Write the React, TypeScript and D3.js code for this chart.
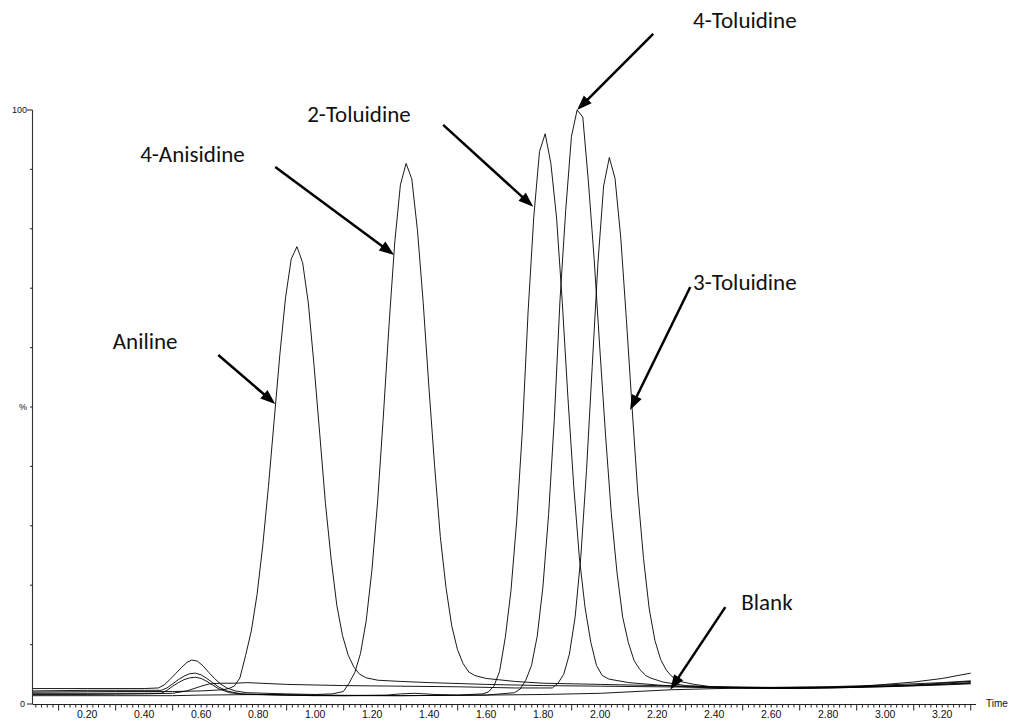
import React from "react";
import * as d3 from "d3";

type Pt = [number, number];

// chromatogram traces, [time (min), intensity %]
const anilineTrace: Pt[] = [
  [0.01, 2.0], [0.3, 2.1], [0.5, 2.1], [0.6, 2.2], [0.676, 2.4], [0.696, 2.6], [0.716, 3.0],
  [0.736, 4.4], [0.756, 8.2], [0.776, 12.3], [0.796, 18.4], [0.816, 26.6], [0.836, 36.6],
  [0.856, 47.7], [0.876, 58.8], [0.896, 68.4], [0.916, 74.9], [0.936, 77.0], [0.956, 74.3],
  [0.976, 67.5], [0.996, 57.0], [1.016, 45.5], [1.036, 33.8], [1.056, 24.4], [1.076, 16.6],
  [1.096, 11.5], [1.116, 8.2], [1.136, 6.2], [1.156, 5.0], [1.18, 4.4], [1.22, 4.0], [1.3, 3.8],
  [1.4, 3.6], [1.6, 3.3], [1.8, 3.1], [2.0, 3.0], [2.2, 2.9], [2.4, 2.8], [2.6, 2.7], [2.8, 2.8],
  [3.0, 3.0], [3.2, 3.3], [3.3, 3.5],
];

const anisidineTrace: Pt[] = [
  [0.01, 2.6], [0.2, 2.6], [0.4, 2.6], [0.45, 2.7], [0.47, 3.2], [0.49, 4.1], [0.51, 5.1],
  [0.53, 6.1], [0.55, 7.0], [0.567, 7.4], [0.587, 7.2], [0.607, 6.4], [0.627, 5.3], [0.647, 4.3],
  [0.667, 3.4], [0.69, 2.7], [0.72, 2.2], [0.76, 1.9], [0.9, 1.7], [1.0, 1.6], [1.06, 1.7],
  [1.099, 2.1], [1.119, 3.5], [1.139, 5.3], [1.159, 8.5], [1.179, 14.0], [1.199, 22.5],
  [1.219, 34.0], [1.239, 48.3], [1.259, 63.7], [1.279, 77.6], [1.299, 87.4], [1.319, 91.0],
  [1.339, 88.4], [1.359, 79.7], [1.379, 67.6], [1.399, 53.4], [1.419, 40.1], [1.439, 28.2],
  [1.459, 19.6], [1.479, 13.2], [1.499, 9.2], [1.519, 6.8], [1.539, 5.4], [1.56, 4.8], [1.6, 4.3],
  [1.7, 3.8], [1.8, 3.5], [2.0, 3.3], [2.2, 3.1], [2.4, 2.9], [2.6, 2.8], [2.8, 2.9], [3.0, 3.2],
  [3.2, 3.6], [3.3, 3.9],
];

const toluidine2Trace: Pt[] = [
  [0.01, 2.2], [0.2, 2.3], [0.4, 2.3], [0.46, 2.3], [0.48, 2.7], [0.5, 3.4], [0.52, 4.1],
  [0.54, 4.7], [0.56, 5.1], [0.58, 5.2], [0.6, 4.9], [0.62, 4.3], [0.64, 3.6], [0.66, 2.9],
  [0.69, 2.2], [0.74, 1.7], [0.9, 1.5], [1.1, 1.4], [1.25, 1.5], [1.3, 1.7], [1.35, 1.8],
  [1.42, 1.6], [1.5, 1.5], [1.587, 1.7], [1.607, 2.0], [1.627, 3.0], [1.647, 5.5], [1.667, 11.2],
  [1.687, 19.1], [1.707, 30.8], [1.727, 46.1], [1.747, 66.0], [1.767, 82.0], [1.787, 93.0],
  [1.807, 96.0], [1.827, 91.0], [1.847, 81.8], [1.867, 67.6], [1.887, 51.4], [1.907, 36.8],
  [1.927, 24.6], [1.947, 16.2], [1.967, 10.4], [1.987, 6.5], [2.007, 4.8], [2.03, 4.2],
  [2.1, 3.6], [2.2, 3.2], [2.3, 2.9], [2.4, 2.7], [2.6, 2.6], [2.8, 2.7], [3.0, 2.9], [3.2, 3.2],
  [3.3, 3.4],
];

const toluidine4Trace: Pt[] = [
  [0.01, 1.8], [0.2, 1.8], [0.4, 1.8], [0.46, 1.8], [0.48, 2.3], [0.5, 3.0], [0.52, 3.6],
  [0.54, 4.1], [0.56, 4.4], [0.58, 4.5], [0.6, 4.3], [0.62, 3.8], [0.64, 3.2], [0.66, 2.6],
  [0.7, 1.9], [0.76, 1.6], [1.0, 1.4], [1.3, 1.4], [1.6, 1.5], [1.699, 1.9], [1.719, 2.5],
  [1.739, 4.0], [1.759, 6.5], [1.779, 11.4], [1.799, 19.7], [1.819, 31.9], [1.839, 47.9],
  [1.859, 68.0], [1.879, 83.1], [1.899, 95.5], [1.919, 100.0], [1.939, 98.8], [1.959, 87.7],
  [1.979, 74.8], [1.999, 59.6], [2.019, 45.1], [2.039, 32.1], [2.059, 22.1], [2.079, 14.6],
  [2.099, 10.3], [2.119, 7.3], [2.139, 5.8], [2.16, 4.8], [2.175, 4.4], [2.22, 3.7], [2.3, 3.1],
  [2.39, 2.9], [2.5, 2.7], [2.7, 2.6], [2.9, 2.8], [3.1, 3.1], [3.3, 3.6],
];

const toluidine3Trace: Pt[] = [
  [0.01, 1.6], [0.2, 1.6], [0.4, 1.7], [0.5, 1.8], [0.55, 2.2], [0.6, 3.0], [0.63, 3.4],
  [0.67, 3.5], [0.72, 3.5], [0.76, 3.6], [0.9, 3.3], [1.1, 3.1], [1.3, 3.0], [1.5, 2.9],
  [1.7, 2.7], [1.832, 2.7], [1.852, 3.5], [1.872, 5.0], [1.892, 8.4], [1.912, 14.6],
  [1.932, 24.8], [1.952, 39.3], [1.972, 56.8], [1.992, 74.2], [2.012, 87.2], [2.032, 92.0],
  [2.052, 88.5], [2.072, 78.6], [2.092, 64.7], [2.112, 49.8], [2.132, 35.5], [2.152, 24.5],
  [2.172, 16.0], [2.192, 10.7], [2.212, 7.5], [2.232, 5.7], [2.252, 4.6], [2.28, 3.8],
  [2.33, 3.3], [2.39, 2.9], [2.5, 2.8], [2.7, 2.7], [2.9, 2.9], [3.0, 3.3], [3.1, 3.7],
  [3.2, 4.3], [3.3, 5.2],
];

const blankTrace: Pt[] = [
  [0.01, 1.4], [0.3, 1.4], [0.5, 1.4], [0.6, 1.5], [0.8, 1.6], [1.0, 1.5], [1.3, 1.4],
  [1.6, 1.5], [1.8, 1.6], [2.0, 1.8], [2.25, 2.4], [2.5, 2.7], [2.7, 2.8], [2.9, 2.9],
  [3.1, 3.2], [3.3, 3.8],
];

const traces = [anilineTrace, anisidineTrace, toluidine2Trace, toluidine4Trace, toluidine3Trace, blankTrace];

const xLabelTimes = [0.2, 0.4, 0.6, 0.8, 1.0, 1.2, 1.4, 1.6, 1.8, 2.0, 2.2, 2.4, 2.6, 2.8, 3.0, 3.2];
const yTickPercents = [0, 10, 20, 30, 40, 50, 60, 70, 80, 90, 100];
const yTickLabels: Record<number, string> = { 0: "0", 50: "%", 100: "100" };

// peak labels: text anchor, arrow tail and arrow tip, all in (time, %)
const peakNames = ["Aniline", "4-Anisidine", "2-Toluidine", "4-Toluidine", "3-Toluidine", "Blank"];
const labelAt: Pt[] = [[0.29, 59.8], [0.386, 91.2], [0.972, 98.0], [2.326, 113.8], [2.326, 69.7], [2.495, 15.8]];
const arrowFrom: Pt[] = [[0.66, 58.75], [0.86, 90.4], [1.449, 97.5], [2.186, 112.8], [2.316, 70.2], [2.439, 16.3]];
const arrowTo: Pt[] = [[0.86, 50.5], [1.277, 75.6], [1.765, 83.7], [1.919, 100.0], [2.105, 49.5], [2.246, 2.4]];

const W = 1010;
const H = 723;

export default function App() {
  const x = d3.scaleLinear().domain([0.01, 3.315]).range([33, 975]);
  const y = d3.scaleLinear().domain([0, 100]).range([704, 110]);
  const line = d3.line<Pt>().x(d => x(d[0])).y(d => y(d[1]));

  const minor = d3.range(1, 166).map(i => i * 0.02);
  const axisFont = "'Liberation Sans', Arial, sans-serif";
  const noteFont = "Carlito, Calibri, 'Open Sans', sans-serif";

  const arrows = arrowFrom.map((f, i) => {
    const x0 = x(f[0]), y0 = y(f[1]);
    const x1 = x(arrowTo[i][0]), y1 = y(arrowTo[i][1]);
    const len = Math.hypot(x1 - x0, y1 - y0);
    const ux = (x1 - x0) / len, uy = (y1 - y0) / len;
    const hl = 15, hw = 5.5;
    const bx = x1 - ux * hl, by = y1 - uy * hl;
    const head = [
      [x1, y1],
      [bx - uy * hw, by + ux * hw],
      [bx + uy * hw, by - ux * hw],
    ].map(p => p.join(",")).join(" ");
    return { x0, y0, bx: bx + ux * 2, by: by + uy * 2, head };
  });

  return (
    <svg width={W} height={H} style={{ position: "absolute", left: 0, top: 0, background: "#fff" }}>
      {/* traces */}
      <g fill="none" stroke="#000" strokeWidth={0.9}>
        {traces.map((t, i) => (
          <path key={i} d={line(t) || ""} />
        ))}
      </g>

      {/* x axis */}
      <g stroke="#222" strokeWidth={1}>
        <line x1={33} x2={976} y1={704.5} y2={704.5} />
        {minor.map((t, i) => {
          const long = Math.round(t * 100) % 20 === 10;
          return <line key={i} x1={x(t)} x2={x(t)} y1={704.5} y2={704.5 + (long ? 6 : 3)} />;
        })}
      </g>
      <g fontFamily={axisFont} fontSize={10.5} fill="#111" textAnchor="middle">
        {xLabelTimes.map(t => (
          <text key={t} x={x(t)} y={718}>{t.toFixed(2)}</text>
        ))}
      </g>
      <text x={986} y={707} fontFamily={axisFont} fontSize={10} fill="#111">Time</text>

      {/* y axis */}
      <g stroke="#333" strokeWidth={1.1}>
        <line x1={32.5} x2={32.5} y1={110} y2={704.5} />
        {yTickPercents.map(p => (
          <line key={p} x1={p === 0 || p === 100 ? 27 : 30} x2={32.5} y1={y(p)} y2={y(p)} />
        ))}
      </g>
      <g fontFamily={axisFont} fontSize={9} fill="#111" textAnchor="end">
        {yTickPercents.filter(p => yTickLabels[p]).map(p => (
          <text key={p} x={p === 0 ? 25 : 27} y={y(p) + 3}>{yTickLabels[p]}</text>
        ))}
      </g>

      {/* peak annotations */}
      {arrows.map((a, i) => (
        <g key={i}>
          <line x1={a.x0} y1={a.y0} x2={a.bx} y2={a.by} stroke="#000" strokeWidth={2.5} />
          <polygon points={a.head} fill="#000" />
        </g>
      ))}
      <g fontFamily={noteFont} fontSize={23} fill="#111">
        {peakNames.map((n, i) => (
          <text key={n} x={x(labelAt[i][0])} y={y(labelAt[i][1])}>{n}</text>
        ))}
      </g>
    </svg>
  );
}
